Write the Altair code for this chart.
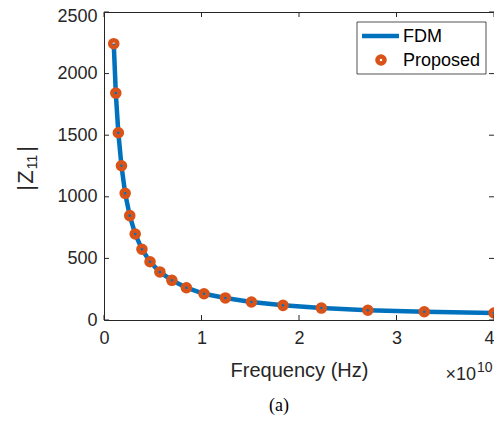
import altair as alt
import pandas as pd

# Frequencies (GHz)
freq_ghz = [1.0, 1.21, 1.47, 1.79, 2.17, 2.64, 3.20, 3.89, 4.72, 5.73,
            6.96, 8.45, 10.26, 12.45, 15.12, 18.36, 22.29, 27.06, 32.85, 40.0]
fdm_z = [2243, 1842, 1520, 1252, 1028, 847, 698, 574, 473, 390,
         322, 262, 213, 179, 146, 119, 97, 79, 67, 57]
prop_z = [2243, 1842, 1520, 1252, 1028, 847, 698, 574, 473, 390,
          322, 262, 213, 179, 146, 119, 97, 79, 67, 57]

x_ticks = [0, 1e10, 2e10, 3e10, 4e10]
y_ticks = [0, 500, 1000, 1500, 2000, 2500]

L = 104          # absolute x of plot left edge
T = 12           # absolute y of plot top edge
W, H = 390, 308
AX = "#262626"
BLUE = "#0072BD"
ORANGE = "#D95319"
FONT = "Liberation Sans, Arial, Helvetica, sans-serif"
SERIF = "Liberation Serif, Times New Roman, serif"

df = pd.DataFrame({"f": [v * 1e9 for v in freq_ghz], "fdm": fdm_z, "prop": prop_z})
xt = pd.DataFrame({"t": x_ticks})
yt = pd.DataFrame({"t": y_ticks})
one = pd.DataFrame({"a": [0]})

xs = alt.Scale(domain=[0, 4e10], nice=False, zero=False)
ys = alt.Scale(domain=[0, 2500], nice=False, zero=False)

xaxis = alt.Axis(values=x_ticks, labelExpr="'' + (datum.value / 1e10)", grid=False,
                 domain=False, ticks=False, tickSize=0, labelPadding=9,
                 labelFontSize=18, labelColor=AX, labelFont=FONT,
                 labelAlign={"condition": {"test": "datum.value == 4e10", "value": "right"},
                             "value": "center"},
                 title="Frequency (Hz)", titleFontSize=20, titleFontWeight="normal",
                 titleColor=AX, titleFont=FONT, titlePadding=13)
yaxis = alt.Axis(values=y_ticks, format="d", grid=False, domain=False, ticks=False,
                 tickSize=0, labelPadding=7, labelFontSize=18, labelColor=AX,
                 labelFont=FONT, title=None,
                 labelOffset={"condition": {"test": "datum.value == 2500", "value": 4},
                              "value": 0})

line = alt.Chart(df).mark_line(color=BLUE, strokeWidth=4.5).encode(
    x=alt.X("f:Q", scale=xs, axis=xaxis),
    y=alt.Y("fdm:Q", scale=ys, axis=yaxis),
)
pts = alt.Chart(df).mark_point(shape="circle", filled=False, stroke=ORANGE,
                               strokeWidth=4.5, size=50, opacity=1).encode(
    x=alt.X("f:Q", scale=xs), y=alt.Y("prop:Q", scale=ys))

tick_style = dict(color=AX, strokeWidth=1)
top_t = alt.Chart(xt).mark_rule(**tick_style).encode(
    x=alt.X("t:Q", scale=xs), y=alt.value(0), y2=alt.value(5))
bot_t = alt.Chart(xt).mark_rule(**tick_style).encode(
    x=alt.X("t:Q", scale=xs), y=alt.value(H), y2=alt.value(H - 5))
left_t = alt.Chart(yt).mark_rule(**tick_style).encode(
    y=alt.Y("t:Q", scale=ys), x=alt.value(0), x2=alt.value(5))
right_t = alt.Chart(yt).mark_rule(**tick_style).encode(
    y=alt.Y("t:Q", scale=ys), x=alt.value(W), x2=alt.value(W - 5))

# Legend
leg_box = alt.Chart(one).mark_rect(fill="white", stroke=AX, strokeWidth=0.8).encode(
    x=alt.value(357 - L), x2=alt.value(486 - L), y=alt.value(22 - T), y2=alt.value(74 - T))
leg_line = alt.Chart(one).mark_rule(color=BLUE, strokeWidth=4.5).encode(
    x=alt.value(362 - L), x2=alt.value(399 - L), y=alt.value(36 - T))
leg_pt = alt.Chart(one).mark_point(shape="circle", filled=False, stroke=ORANGE,
                                   strokeWidth=4.5, size=50, opacity=1).encode(
    x=alt.value(381 - L), y=alt.value(60 - T))
leg_t1 = alt.Chart(one).mark_text(text="FDM", align="left", baseline="middle",
                                  fontSize=18, font=FONT, color="black").encode(
    x=alt.value(403 - L), y=alt.value(37 - T))
leg_t2 = alt.Chart(one).mark_text(text="Proposed", align="left", baseline="middle",
                                  fontSize=18, font=FONT, color="black").encode(
    x=alt.value(403 - L), y=alt.value(61 - T))

# Y title |Z11| (rotated, with subscript)
yt_style = dict(angle=270, align="center", baseline="alphabetic", font=FONT, color=AX)
yb1 = alt.Chart(one).mark_text(text="|", fontSize=22, **yt_style).encode(
    x=alt.value(33 - L), y=alt.value(188 - T))
yz = alt.Chart(one).mark_text(text="Z", fontSize=22, **yt_style).encode(
    x=alt.value(33 - L), y=alt.value(177 - T))
y11 = alt.Chart(one).mark_text(text="11", fontSize=14, **yt_style).encode(
    x=alt.value(37 - L), y=alt.value(162 - T))
yb2 = alt.Chart(one).mark_text(text="|", fontSize=22, **yt_style).encode(
    x=alt.value(33 - L), y=alt.value(149 - T))

# x10^10 multiplier
mul = alt.Chart(one).mark_text(text="×10", align="right", baseline="alphabetic",
                               fontSize=18, font=FONT, color=AX).encode(
    x=alt.value(476 - L), y=alt.value(380 - T))
sup = alt.Chart(one).mark_text(text="10", align="left", baseline="alphabetic",
                               fontSize=14, font=FONT, color=AX).encode(
    x=alt.value(477 - L), y=alt.value(372 - T))

# caption (a)
cap = alt.Chart(one).mark_text(text="(a)", align="center", baseline="alphabetic",
                               fontSize=18, font=SERIF, color="black").encode(
    x=alt.value(279 - L), y=alt.value(411 - T))

chart = alt.layer(
    line, pts, top_t, bot_t, left_t, right_t,
    leg_box, leg_line, leg_pt, leg_t1, leg_t2,
    yb1, yz, y11, yb2, mul, sup, cap,
).properties(
    width=W, height=H,
    autosize=alt.AutoSizeParams(type="none"),
    padding={"left": L - 8, "top": T - 8, "right": 0, "bottom": 96},
    background="white",
).configure_view(stroke=AX, strokeWidth=1)

chart.save("out.html", embed_options={"renderer": "svg", "actions": False})
